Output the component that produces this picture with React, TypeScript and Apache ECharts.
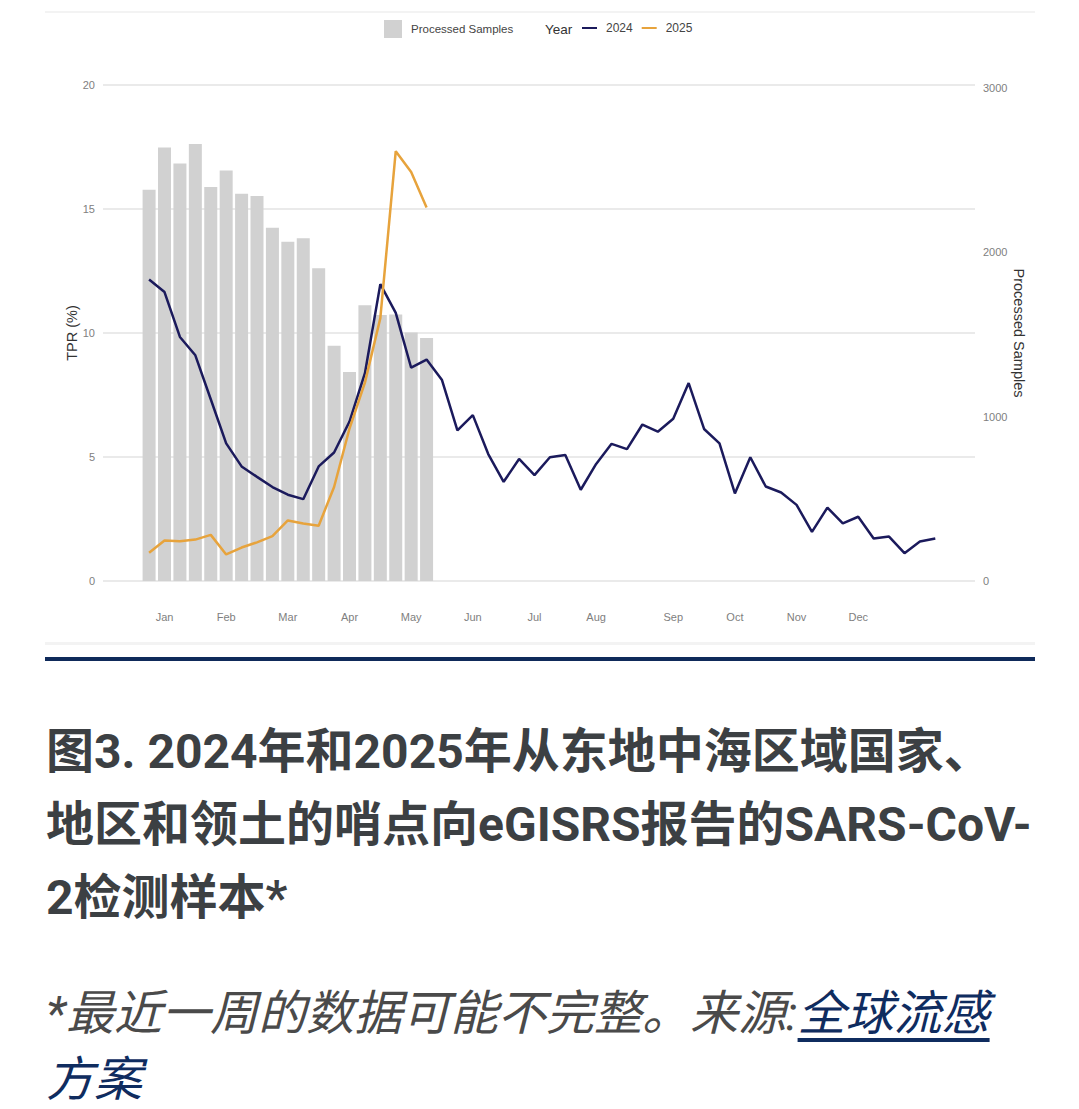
import React, { useEffect, useRef } from "react";
import * as echarts from "echarts";

// TPR (%) by ISO week, 2024 (weeks 1..52)
const tpr2024 = [
  12.16, 11.65, 9.84, 9.1, 7.33, 5.55, 4.62, 4.2, 3.79, 3.48,
  3.3, 4.62, 5.18, 6.43, 8.38, 11.97, 10.81, 8.6, 8.93, 8.1,
  6.07, 6.69, 5.12, 4.0, 4.92, 4.27, 4.99, 5.08, 3.68, 4.72,
  5.53, 5.32, 6.31, 6.02, 6.54, 7.98, 6.13, 5.55, 3.53, 4.99,
  3.81, 3.57, 3.07, 1.98, 2.96, 2.32, 2.59, 1.71, 1.79, 1.12,
  1.59, 1.71,
];
// TPR (%) by ISO week, 2025 (weeks 1..19)
const tpr2025 = [
  1.14, 1.63, 1.6, 1.67, 1.86, 1.07, 1.35, 1.56, 1.81, 2.44,
  2.32, 2.23, 3.79, 6.15, 8.0, 10.6, 17.33, 16.49, 15.06,
];
// Processed samples by week, 2025 (weeks 1..19)
const samples2025 = [
  2381, 2638, 2541, 2659, 2398, 2497, 2357, 2342, 2150, 2064,
  2085, 1903, 1432, 1271, 1678, 1619, 1621, 1512, 1479,
];
// Month tick labels and the week they sit on
const monthLabels = ["Jan", "Feb", "Mar", "Apr", "May", "Jun", "Jul", "Aug", "Sep", "Oct", "Nov", "Dec"];
const monthWeeks = [2, 6, 10, 14, 18, 22, 26, 30, 35, 39, 43, 47];

const titleLines = [
  "图3. 2024年和2025年从东地中海区域国家、",
  "地区和领土的哨点向eGISRS报告的SARS-CoV-",
  "2检测样本*",
];

const NAVY = "#1b1a5c";
const ORANGE = "#e7a33c";
const BAR = "#d1d1d1";
const FONT = "'Liberation Sans', Arial, sans-serif";

export default function App() {
  const ref = useRef<HTMLDivElement>(null);

  useEffect(() => {
    if (!ref.current) return;
    const chart = echarts.init(ref.current, null, { renderer: "svg" });
    const weekLabel: Record<number, string> = {};
    monthWeeks.forEach((w, i) => (weekLabel[w] = monthLabels[i]));

    chart.setOption({
      animation: false,
      backgroundColor: "transparent",
      textStyle: { fontFamily: FONT },
      grid: { left: 103, right: 104, top: 85, bottom: 69, containLabel: false },
      legend: [
        {
          data: [{ name: "Processed Samples", icon: "rect" }],
          left: 379,
          top: 15,
          itemWidth: 18,
          itemHeight: 18,
          selectedMode: false,
          textStyle: { fontSize: 11.5, color: "#444", fontFamily: FONT, padding: [0, 0, 0, 4] },
        },
        {
          data: [
            { name: "2024", icon: "rect" },
            { name: "2025", icon: "rect" },
          ],
          left: 577,
          top: 17,
          itemWidth: 15,
          itemHeight: 2,
          itemGap: 9,
          selectedMode: false,
          textStyle: { fontSize: 12, color: "#444", fontFamily: FONT, padding: [0, 0, 0, 4] },
        },
      ],
      graphic: [
        {
          type: "text",
          left: 545,
          top: 22,
          style: { text: "Year", fontSize: 13.5, fill: "#333", fontFamily: FONT },
        },
      ],
      xAxis: {
        type: "value",
        min: -1.99,
        max: 54.575,
        axisLine: { show: false },
        axisTick: { show: false },
        splitLine: { show: false },
        axisLabel: {
          customValues: monthWeeks,
          formatter: (v: number) => weekLabel[Math.round(v)] || "",
          margin: 30,
          fontSize: 11,
          color: "#808080",
        },
      },
      yAxis: [
        {
          type: "value",
          min: 0,
          max: 20,
          interval: 5,
          name: "TPR (%)",
          nameLocation: "middle",
          nameGap: 24,
          nameMoveOverlap: false,
          nameTextStyle: { fontSize: 14.5, color: "#333" },
          axisLine: { show: false },
          axisTick: { show: false },
          axisLabel: { fontSize: 11, color: "#808080", margin: 8 },
          splitLine: { lineStyle: { color: "#e3e3e3", width: 1.5 } },
        },
        {
          type: "value",
          min: 0,
          max: 3018,
          interval: 1000,
          position: "right",
          name: "Processed Samples",
          nameLocation: "middle",
          nameRotate: -90,
          nameGap: 36,
          nameMoveOverlap: false,
          nameTextStyle: { fontSize: 14.5, color: "#333" },
          axisLine: { show: false },
          axisTick: { show: false },
          axisLabel: {
            fontSize: 11,
            color: "#808080",
            margin: 8,
            showMaxLabel: false,
            formatter: (v: number) => String(v),
          },
          splitLine: { show: false },
        },
      ],
      series: [
        {
          name: "Processed Samples",
          type: "bar",
          yAxisIndex: 1,
          barWidth: 13,
          itemStyle: { color: BAR },
          data: samples2025.map((v, i) => [i + 1, v]),
          z: 1,
        },
        {
          name: "2024",
          type: "line",
          yAxisIndex: 0,
          showSymbol: false,
          itemStyle: { color: NAVY },
          lineStyle: { color: NAVY, width: 2.5 },
          data: tpr2024.map((v, i) => [i + 1, v]),
          z: 3,
        },
        {
          name: "2025",
          type: "line",
          yAxisIndex: 0,
          showSymbol: false,
          itemStyle: { color: ORANGE },
          lineStyle: { color: ORANGE, width: 2.5 },
          data: tpr2025.map((v, i) => [i + 1, v]),
          z: 4,
        },
      ],
    });
    return () => chart.dispose();
  }, []);

  const titleStyle: React.CSSProperties = {
    position: "absolute",
    left: 46,
    height: 72,
    lineHeight: "72px",
    fontSize: 48,
    fontWeight: 700,
    color: "#3c4043",
    whiteSpace: "nowrap",
    fontFamily: "Roboto, 'Noto Sans CJK SC', sans-serif",
  };
  const noteStyle: React.CSSProperties = {
    position: "absolute",
    left: 46,
    fontSize: 48,
    fontStyle: "italic",
    fontWeight: 400,
    color: "#4a4a4a",
    whiteSpace: "nowrap",
    fontFamily: "Roboto, 'Noto Sans CJK SC', sans-serif",
  };
  const linkStyle: React.CSSProperties = {
    color: "#0f2c5f",
    textDecoration: "underline",
    textDecorationThickness: "4px",
    textUnderlineOffset: "8px",
  };

  return (
    <div
      style={{
        position: "absolute",
        left: 0,
        top: 0,
        width: 1079,
        height: 1109,
        background: "#fff",
        overflow: "hidden",
      }}
    >
      <div style={{ position: "absolute", left: 45, top: 11, width: 990, height: 2, background: "#f3f3f3" }} />
      <div style={{ position: "absolute", left: 45, top: 642, width: 990, height: 3, background: "#f3f3f3" }} />
      <div ref={ref} style={{ position: "absolute", left: 0, top: 0, width: 1079, height: 650 }} />
      <div style={{ position: "absolute", left: 45, top: 657, width: 990, height: 4, background: "#0f2a5a" }} />
      {titleLines.map((t, i) => (
        <div key={i} style={{ ...titleStyle, top: 716 + i * 73 }}>
          {t}
        </div>
      ))}
      <div style={{ ...noteStyle, top: 978, height: 72, lineHeight: "72px" }}>
        *最近一周的数据可能不完整。来源:<span style={linkStyle}>全球流感</span>
      </div>
      <div style={{ ...noteStyle, top: 1054, height: 51, lineHeight: "51px", color: "#0f2c5f" }}>
        方案
      </div>
    </div>
  );
}
